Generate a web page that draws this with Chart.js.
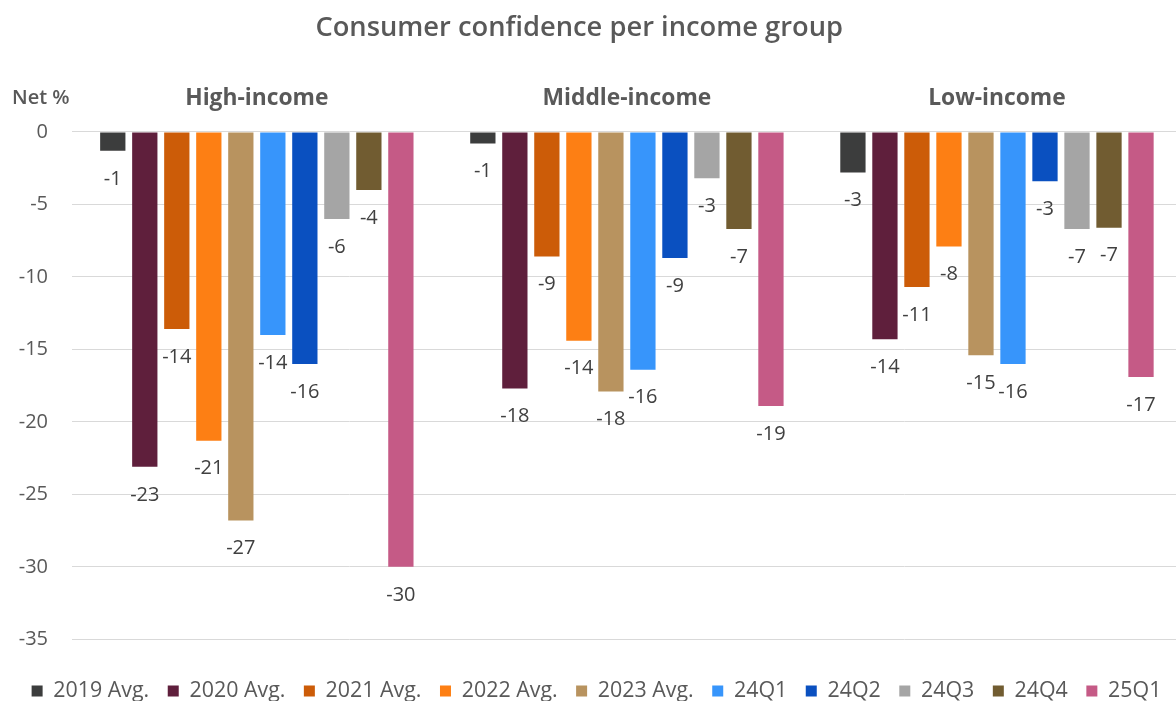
<!DOCTYPE html>
<html><head><meta charset="utf-8">
<script src="https://cdn.jsdelivr.net/npm/chart.js@4/dist/chart.umd.min.js"></script>
<style>
html,body{margin:0;padding:0;background:#fff;overflow:hidden;width:1176px;height:701px;}
#wrap{width:1176px;height:701px;overflow:hidden;position:relative;}
canvas{position:absolute;left:0;top:0;}
</style></head><body>
<div id="wrap"><canvas id="c" width="1182" height="701"></canvas></div>
<script>
const chartTitle = 'Consumer confidence per income group';
const yAxisLabel = 'Net %';
const categories = ['High-income', 'Middle-income', 'Low-income'];
const seriesNames = ['2019 Avg.', '2020 Avg.', '2021 Avg.', '2022 Avg.', '2023 Avg.', '24Q1', '24Q2', '24Q3', '24Q4', '25Q1'];
const avg2019 = [-1.3, -0.8, -2.8];
const avg2020 = [-23.1, -17.7, -14.3];
const avg2021 = [-13.6, -8.6, -10.7];
const avg2022 = [-21.3, -14.4, -7.9];
const avg2023 = [-26.8, -17.9, -15.4];
const q24_1 = [-14.0, -16.4, -16.0];
const q24_2 = [-16.0, -8.7, -3.4];
const q24_3 = [-6.0, -3.2, -6.7];
const q24_4 = [-4.0, -6.7, -6.6];
const q25_1 = [-30.0, -18.9, -16.9];
const yTickMin = -35, yTickMax = 0, yTickStep = 5;

const seriesValues = [avg2019, avg2020, avg2021, avg2022, avg2023, q24_1, q24_2, q24_3, q24_4, q25_1];
const seriesColors = ['#3c3d3d', '#5f1f3c', '#cc5c08', '#fd7f14', '#b8935f', '#3795fb', '#0a50c0', '#a5a5a5', '#715c31', '#c55a86'];

const FONT = '"Open Sans", "Noto Sans", sans-serif';

const overlay = {
  id: 'overlay',
  afterDatasetsDraw(chart) {
    const ctx = chart.ctx;
    ctx.save();
    ctx.font = '20px ' + FONT;
    ctx.fillStyle = '#404040';
    ctx.textAlign = 'center';
    ctx.textBaseline = 'middle';
    chart.data.datasets.forEach((ds, i) => {
      const meta = chart.getDatasetMeta(i);
      meta.data.forEach((bar, j) => {
        ctx.fillText(String(Math.round(ds.data[j])), bar.x, bar.y + 28);
      });
    });
    ctx.restore();
  },
  afterDraw(chart) {
    const ctx = chart.ctx;
    ctx.save();
    ctx.fillStyle = '#595959';
    ctx.textBaseline = 'middle';
    ctx.textAlign = 'center';
    ctx.font = '600 27.3px ' + FONT;
    ctx.fillText(chartTitle, chart.width * 0.49, 28);
    ctx.textAlign = 'left';
    ctx.font = '600 20px ' + FONT;
    ctx.fillText(yAxisLabel, 12, 98);
    ctx.restore();
  }
};

new Chart(document.getElementById('c'), {
  type: 'bar',
  data: {
    labels: categories,
    datasets: seriesNames.map((n, i) => ({
      label: n,
      data: seriesValues[i],
      backgroundColor: seriesColors[i],
      borderWidth: 0,
      categoryPercentage: 0.865,
      barPercentage: 0.79
    }))
  },
  options: {
    responsive: false,
    animation: false,
    layout: { padding: { top: 73, left: 11, right: 0, bottom: -10.7 } },
    scales: {
      x: {
        position: 'top',
        grid: { display: false },
        border: { display: false },
        ticks: { color: '#595959', font: { family: FONT, size: 22.8, weight: 'bold' }, padding: 11.8 }
      },
      y: {
        min: yTickMin, max: yTickMax,
        afterFit(scale) { scale.width = 60.8; },
        grid: { color: '#d9d9d9', lineWidth: 1, drawTicks: false },
        border: { display: false },
        ticks: { stepSize: yTickStep, color: '#595959', font: { family: FONT, size: 20 }, padding: 23.8 }
      }
    },
    plugins: {
      title: { display: false },
      tooltip: { enabled: false },
      legend: {
        position: 'bottom',
        title: { display: true, text: '', font: { size: 10 }, padding: { top: 10.5, bottom: 0 } },
        labels: { boxWidth: 11, boxHeight: 11, padding: 18.5, color: '#595959', font: { family: FONT, size: 21.4 } }
      }
    }
  },
  plugins: [overlay]
});
</script>
</body></html>
